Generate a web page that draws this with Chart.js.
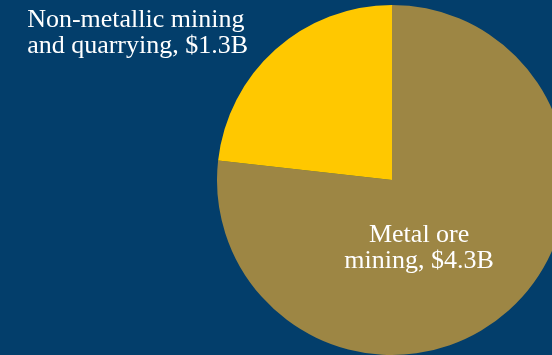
<!DOCTYPE html>
<html>
<head>
<meta charset="utf-8">
<script src="https://cdn.jsdelivr.net/npm/chart.js@4/dist/chart.umd.min.js"></script>
<style>
  html, body { margin: 0; padding: 0; background: #033e6b; overflow: hidden; }
  #wrap { position: relative; width: 600px; height: 360px; }
</style>
</head>
<body>
<div id="wrap"><canvas id="pie-chart" width="600" height="360"></canvas></div>
<script>
const categories = ["Metal ore mining", "Non-metallic mining and quarrying"];
const values = [4.3, 1.3];
const sliceLabels = [["Metal ore", "mining, $4.3B"], ["Non-metallic mining", "and quarrying, $1.3B"]];
const sliceColors = ["#9d8644", "#ffc800"];

// writes the slice captions; offsets are in units of the pie radius
const captionPlugin = {
  id: 'captions',
  afterDatasetsDraw(chart) {
    const ctx = chart.ctx;
    const arcs = chart.getDatasetMeta(0).data;
    const spots = [
      { dx: 0.155, dy: 0.354, align: 'center' },
      { dx: -2.085, dy: -0.874, align: 'left' }
    ];
    ctx.save();
    ctx.fillStyle = '#ffffff';
    ctx.font = '26px "Liberation Serif", serif';
    ctx.textBaseline = 'alphabetic';
    arcs.forEach((arc, i) => {
      const r = arc.outerRadius;
      const s = spots[i];
      ctx.textAlign = s.align;
      sliceLabels[i].forEach((line, j) => {
        ctx.fillText(line, arc.x + s.dx * r, arc.y + s.dy * r + j * 26);
      });
    });
    ctx.restore();
  }
};

new Chart(document.getElementById("pie-chart"), {
  type: 'pie',
  data: {
    labels: categories,
    datasets: [{
      data: values,
      backgroundColor: sliceColors,
      borderWidth: 0,
      hoverOffset: 0
    }]
  },
  options: {
    responsive: false,
    animation: false,
    layout: { padding: { left: 217, top: 5, right: 33, bottom: 5 } },
    plugins: {
      legend: { display: false },
      tooltip: { enabled: false }
    }
  },
  plugins: [captionPlugin]
});
</script>
</body>
</html>
